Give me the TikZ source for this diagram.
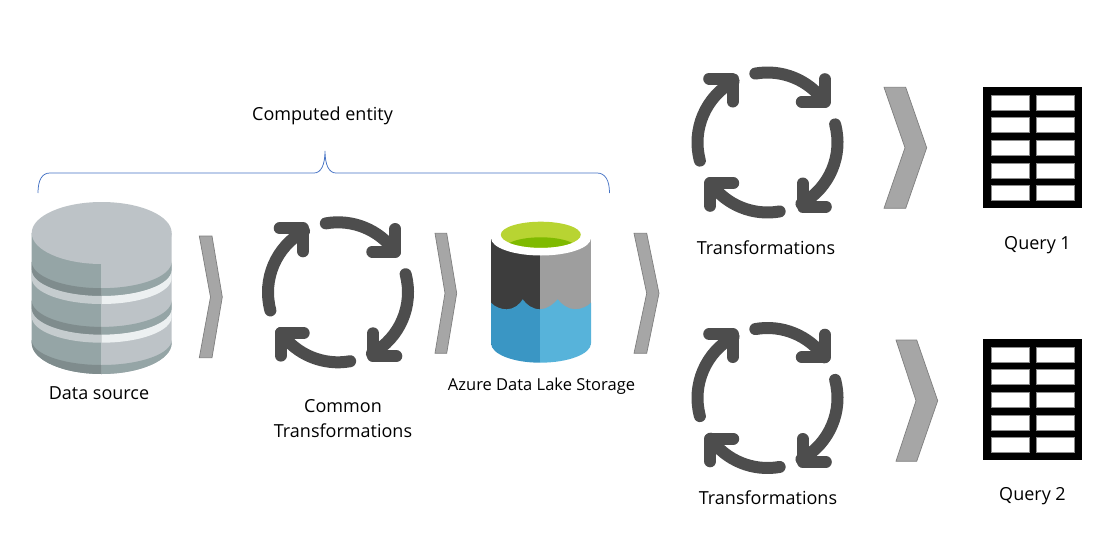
\documentclass[tikz,border=0pt]{standalone}
\usepackage{fontspec}
\setmainfont{Open Sans}
\definecolor{chevfill}{HTML}{A6A6A6}
\definecolor{chevline}{HTML}{7F7F7F}
\definecolor{cycledark}{HTML}{4D4D4D}
\definecolor{bracecol}{HTML}{4472C4}
\definecolor{dbtop}{HTML}{BDC3C7}
\definecolor{dbside}{HTML}{95A5A6}
\definecolor{dbdark}{HTML}{7F8C8D}
\definecolor{dblight}{HTML}{C5CCCE}
\definecolor{dbwhite}{HTML}{ECF0F1}
\definecolor{lakerim}{HTML}{B8D432}
\definecolor{lakeleaf}{HTML}{7FBA00}
\definecolor{lakedeep}{HTML}{3A96C4}
\definecolor{lakeshallow}{HTML}{57B3DA}
\tikzset{
	chevron/.style={fill=chevfill, draw=chevline, line width=0.7pt},
	cyclearc/.style={draw=cycledark, line width=12pt, line cap=round, line join=round},
	cyclearrows/.pic={
		\foreach \r in {0,180} {
			\begin{scope}[rotate=\r]
				\draw[cyclearc] (-100:70) arc (-100:-35.5:70);
				\draw[cyclearc] (34.3,-40.7) -- (57.3,-40.7) -- (57.3,-63.3);
				\draw[cyclearc] (-15:70) arc (-15:61:70);
				\draw[cyclearc] (35,41) -- (35,64) -- (58.3,64);
			\end{scope}
		}
	},
	querytable/.pic={
		\fill[black] (0,0) rectangle (98.5,120.7);
		\foreach \row in {0,...,4} {
			\foreach \col in {7.7,53} {
				\draw[fill=white, draw=black!45, line width=0.5pt] (\col,7.7+\row*22.67) rectangle ++(38,15);
			}
		}
	}
}
\begin{document}
\begin{tikzpicture}[x=1pt, y=-1pt, every node/.style={font=\fontsize{18}{25}\selectfont, inner sep=0pt}]
	\useasboundingbox (0,0) rectangle (1106,546);
	% database
	\fill[dbside] (31.7,233) -- (101.5,233) -- (101.5,374) arc (90:180:69.8 and 31) -- cycle;
	\fill[dbtop] (101.5,233) -- (171.7,233) -- (171.7,343) arc (0:90:70.2 and 31) -- cycle;
	\foreach \dy in {0,38.7} {
		\fill[dbdark] (31.7,261.7+\dy) arc (180:90:69.8 and 26.5) -- ++(0,8) arc (90:180:69.8 and 26.5) -- cycle;
		\fill[dblight] (31.7,270+\dy) arc (180:90:69.8 and 26) -- ++(0,8) arc (90:180:69.8 and 26) -- cycle;
		\fill[dbside] (101.5,288.2+\dy) arc (90:0:70.2 and 26.5) -- ++(0,8) arc (0:90:70.2 and 26.5) -- cycle;
		\fill[dbwhite] (101.5,296+\dy) arc (90:0:70.2 and 26) -- ++(0,8) arc (0:90:70.2 and 26) -- cycle;
	}
	\fill[dbdark] (31.7,340) arc (180:90:69.8 and 25) -- (101.5,374) arc (90:180:69.8 and 31) -- cycle;
	\fill[dbside] (101.5,365) arc (90:0:70.2 and 25) -- (171.7,343) arc (0:90:70.2 and 31) -- cycle;
	\fill[dbtop] (101.7,233) ellipse (70 and 31);
	% lake
	\fill[black!76] (491,238) rectangle (540,345);
	\fill[black!38] (540,238) rectangle (591,345);
	\fill[white] (541,238) ellipse (50 and 17.5);
	\begin{scope}
		\clip (540.8,234.7) ellipse (40 and 13);
		\fill[lakerim] (500,220) rectangle (582,250);
		\fill[lakeleaf] (540.8,250) ellipse (38 and 12.7);
	\end{scope}
	\fill[lakedeep] (491,302.7) .. controls (495,307) and (501,309.3) .. (506.7,309.3) .. controls (514,309.3) and (520,304) .. (522.7,299.3) .. controls (526,304) and (532,309.3) .. (540,309.3) -- (540,362.7) arc (90:180:49 and 19.4) -- cycle;
	\fill[lakeshallow] (540,309.3) .. controls (547,309.3) and (554,304) .. (557.7,299.3) .. controls (561,304) and (568,309.3) .. (575,309.3) .. controls (582,309.3) and (588,306) .. (591,302.7) -- (591,343.3) arc (0:90:51 and 19.4) -- cycle;
	% arrows
	\draw[chevron] (199.3,236) -- (212,236) -- (222.3,297) -- (212,357.7) -- (199.3,357.7) -- (210.5,297) -- cycle;
	\draw[chevron] (435,233.3) -- (446.7,233.3) -- (456.7,293.3) -- (446.7,353.3) -- (435,353.3) -- (445,293.3) -- cycle;
	\draw[chevron] (634,233.3) -- (646.7,233.3) -- (659,293.3) -- (646.7,353.3) -- (634,353.3) -- (646.7,293.3) -- cycle;
	\draw[chevron] (884,87.3) -- (905.7,87.3) -- (926.7,147.7) -- (905.7,208.3) -- (884,208.3) -- (905,147.7) -- cycle;
	\draw[chevron] (896,340) -- (916.7,340) -- (937.7,400.7) -- (916.7,461.3) -- (896,461.3) -- (916,400.7) -- cycle;
	\pic at (338,292.3) {cyclearrows};
	\pic at (767.5,142.5) {cyclearrows};
	\pic at (767.5,398) {cyclearrows};
	\pic at (983.3,87.3) {querytable};
	\pic at (983.3,339.3) {querytable};
	\draw[bracecol, line width=0.75pt] (38,193) .. controls (38,180) and (42,173) .. (50,173) -- (314,173) .. controls (321,173) and (325,165) .. (325,151) .. controls (325,165) and (329,173) .. (336,173) -- (597,173) .. controls (605,173) and (609.5,180) .. (609.5,193);
	\node (computed) at (322.5,115.5) {Computed entity};
	\node (source) at (99,393) {Data source};
	\node[align=center] (common) at (343,418.5) {Common\\Transformations};
	\node[font=\fontsize{16.5}{20}\selectfont] (lake) at (541.5,386) {Azure Data Lake Storage};
	\node (transA) at (766,248) {Transformations};
	\node (transB) at (768,498) {Transformations};
	\node (queryA) at (1037.5,245) {Query 1};
	\node (queryB) at (1032.5,496) {Query 2};
\end{tikzpicture}
\end{document}
